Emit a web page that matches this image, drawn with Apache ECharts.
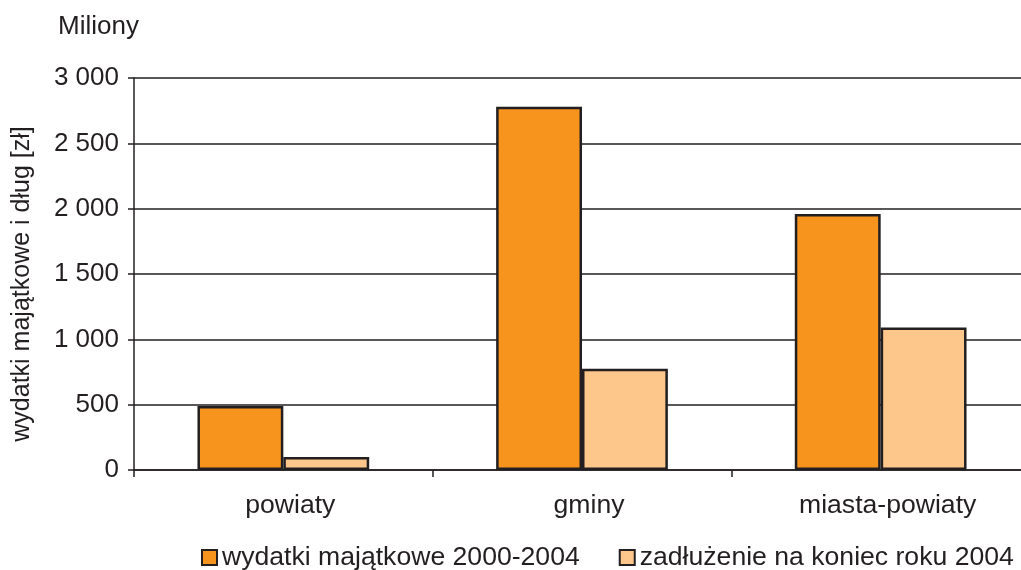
<!DOCTYPE html>
<html><head><meta charset="utf-8">
<script src="https://cdn.jsdelivr.net/npm/echarts@6/dist/echarts.min.js"></script>
<style>html,body{margin:0;padding:0;background:#fff}#c{width:1021px;height:570px}</style>
</head><body><div id="c"></div>
<script>
const categories = ['powiaty', 'gminy', 'miasta-powiaty'];
const seriesNames = ['wydatki majątkowe 2000-2004', 'zadłużenie na koniec roku 2004'];
const wydatki = [490, 2780, 1960];
const zadluzenie = [100, 775, 1090];
const yTicks = [0, 500, 1000, 1500, 2000, 2500, 3000];

const FONT = '"Liberation Sans", Arial, sans-serif';
const chart = echarts.init(document.getElementById('c'));
const fmt = v => String(v).replace(/\B(?=(\d{3})+(?!\d))/g, ' ');
chart.setOption({
  animation: false,
  textStyle: { fontFamily: FONT, color: '#231f20' },
  title: { text: 'Miliony', left: 53, top: 9, textStyle: { fontFamily: FONT, fontSize: 26, fontWeight: 'normal', color: '#231f20' } },
  grid: { left: 134, width: 896, top: 78, height: 392, outerBoundsMode: 'none', containLabel: false },
  legend: {
    left: 196, top: 539, itemWidth: 15, itemHeight: 15, itemGap: 39,
    icon: 'rect',
    textStyle: { fontFamily: FONT, fontSize: 26.6, color: '#231f20' },
    data: seriesNames
  },
  xAxis: {
    type: 'category', data: categories,
    axisLine: { lineStyle: { color: '#231f20', width: 1.5 } },
    axisTick: { show: true, length: 7, lineStyle: { color: '#231f20', width: 1.5 } },
    axisLabel: { fontFamily: FONT, fontSize: 26.6, color: '#231f20', margin: 22, padding: [0, 0, 0, 14] }
  },
  yAxis: {
    type: 'value', min: yTicks[0], max: yTicks[yTicks.length - 1], interval: 500,
    name: 'wydatki majątkowe i dług [zł]', nameLocation: 'middle', nameGap: 99, nameRotate: 90,
    nameTextStyle: { fontFamily: FONT, fontSize: 25, color: '#231f20', padding: [0, 20, 0, 0] },
    axisLine: { show: true, lineStyle: { color: '#231f20', width: 1.5 } },
    axisTick: { show: true, length: 6, lineStyle: { color: '#231f20', width: 1.5 } },
    axisLabel: { fontFamily: FONT, fontSize: 26, color: '#231f20', margin: 15, formatter: fmt },
    splitLine: { lineStyle: { color: '#231f20', width: 1.5 } }
  },
  series: [
    { name: seriesNames[0], type: 'bar', data: wydatki, barGap: '0%', barCategoryGap: '42.5%',
      itemStyle: { color: '#f7941d', borderColor: '#231f20', borderWidth: 2.5 } },
    { name: seriesNames[1], type: 'bar', data: zadluzenie,
      itemStyle: { color: '#fdc68a', borderColor: '#231f20', borderWidth: 2.5 } }
  ]
});
</script></body></html>
